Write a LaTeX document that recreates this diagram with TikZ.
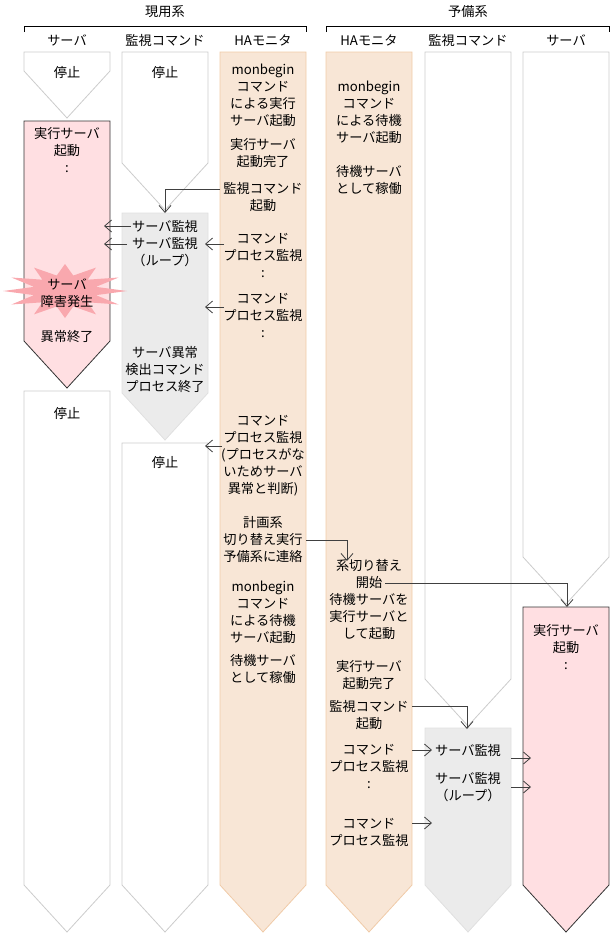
\documentclass[tikz,border=0pt]{standalone}
\usepackage{fontspec}
\setmainfont{Noto Sans CJK JP}
\usetikzlibrary{arrows.meta}
\definecolor{redf}{HTML}{FFDFE2}
\definecolor{grayf}{HTML}{EBEBEB}
\definecolor{orf}{HTML}{F8E6D6}
\definecolor{ord}{HTML}{F0CBA8}
\definecolor{burst}{HTML}{F9A8AE}
\tikzset{
  wht/.style={fill=white,draw=black!20,line width=0.8pt},
  red/.style={fill=redf,draw=black!80,line width=0.8pt},
  gry/.style={fill=grayf,draw=black!12,line width=0.8pt},
  org/.style={fill=orf,draw=ord,line width=0.8pt},
  t/.style={font=\fontsize{13.2}{17}\selectfont,align=center,inner sep=0pt},
  ar/.style={draw=black!75,line width=0.8pt,-{Straight Barb[length=7pt,width=12pt]}},
}
\newcommand\blk[5]{% style,x1,x2,ytop,ytip
  \draw[#1] (#2,#4) -- (#3,#4) -- (#3,{#5-47}) -- ({(#2+#3)/2},#5) -- (#2,{#5-47}) -- cycle;}
\begin{document}
\begin{tikzpicture}[x=1pt,y=-1pt]
\useasboundingbox (0,0) rectangle (612,937);
% headers
\node[t] (h1) at (165,12) {現用系};
\node[t] (h2) at (468,12) {予備系};
\draw[line width=0.8pt] (24,32) -- (24,26) -- (306,26) -- (306,32);
\draw[line width=0.8pt] (326,32) -- (326,26) -- (609,26) -- (609,32);
\node[t] (c1) at (67,40) {サーバ};
\node[t] (c2) at (165,40) {監視コマンド};
\node[t] (c3) at (263,40) {HAモニタ};
\node[t] (c4) at (369,40) {HAモニタ};
\node[t] (c5) at (468,40) {監視コマンド};
\node[t] (c6) at (566,40) {サーバ};
% blocks
\blk{wht}{24}{110}{52}{118}
\blk{red}{24}{110}{121}{388}
\blk{wht}{24}{110}{391}{932}
\blk{wht}{122}{208}{52}{210}
\blk{gry}{122}{208}{213}{440}
\blk{wht}{122}{208}{443}{932}
\blk{org}{220}{306}{52}{932}
\blk{org}{326}{412}{52}{932}
\blk{wht}{425}{511}{52}{726}
\blk{gry}{425}{511}{728}{932}
\blk{wht}{523}{609}{52}{604}
\blk{red}{523}{609}{607}{932}
% burst
\fill[burst] plot[samples=25,domain=0:360,variable=\a]
  ({65+(mod(round(\a/15),2)==0 ? 62 : 32)*cos(\a)},{291+(mod(round(\a/15),2)==0 ? 27 : 16)*sin(\a)}) -- cycle;
% texts current server
\node[t] (s1) at (67,73) {停止};
\node[t] (s2) at (67,150) {実行サーバ\\起動\\:};
\node[t] (s3) at (67,293) {サーバ\\障害発生};
\node[t] (s4) at (67,337) {異常終了};
\node[t] (s5) at (67,414) {停止};
% current monitor cmd
\node[t] (m1) at (165,73) {停止};
\node[t] (m2) at (165,226) {サーバ監視};
\node[t] (m3) at (165,252) {サーバ監視\\（ループ）};
\node[t] (m4) at (165,370) {サーバ異常\\検出コマンド\\プロセス終了};
\node[t] (m5) at (165,463) {停止};
% current HA
\node[t] (a1) at (263,95) {monbegin\\コマンド\\による実行\\サーバ起動};
\node[t] (a2) at (263,153) {実行サーバ\\起動完了};
\node[t] (a3) at (263,197) {監視コマンド\\起動};
\node[t] (a4) at (263,255) {コマンド\\プロセス監視\\:};
\node[t] (a5) at (263,315) {コマンド\\プロセス監視\\:};
\node[t] (a6) at (263,456) {コマンド\\プロセス監視\\(プロセスがな\\いためサーバ\\異常と判断)};
\node[t] (a7) at (263,540) {計画系\\切り替え実行\\予備系に連絡};
\node[t] (a8) at (263,612) {monbegin\\コマンド\\による待機\\サーバ起動};
\node[t] (a9) at (263,669) {待機サーバ\\として稼働};
% standby HA
\node[t] (b1) at (369,112) {monbegin\\コマンド\\による待機\\サーバ起動};
\node[t] (b2) at (369,180) {待機サーバ\\として稼働};
\node[t] (b3) at (369,600) {系切り替え\\開始\\待機サーバを\\実行サーバと\\して起動};
\node[t] (b4) at (369,675) {実行サーバ\\起動完了};
\node[t] (b5) at (369,715) {監視コマンド\\起動};
\node[t] (b6) at (369,766) {コマンド\\プロセス監視\\:};
\node[t] (b7) at (369,832) {コマンド\\プロセス監視};
% standby monitor
\node[t] (n1) at (468,750) {サーバ監視};
\node[t] (n2) at (468,787) {サーバ監視\\（ループ）};
% standby server
\node[t] (r1) at (566,647) {実行サーバ\\起動\\:};
% connectors
\coordinate (q1) at (220,189);
\draw[ar] (q1) -- (165,189) -- (165,213);
\draw[ar] (m2.west) ++(-1,0) -- (104,226);
\draw[ar] (127,244) -- (104,244);
\draw[ar] (224,244) -- (205,244);
\draw[ar] (224,307) -- (205,307);
\draw[ar] (222,446) -- (205,446);
\coordinate (q2) at (306,540);
\draw[ar] (q2) -- (347,540) -- (347,561);
\coordinate (q3) at (385,583);
\draw[ar] (q3) -- (567,583) -- (567,607);
\coordinate (q4) at (412,706);
\draw[ar] (q4) -- (467,706) -- (467,729);
\draw[ar] (412,750) -- (432,750);
\draw[ar] (412,823) -- (432,823);
\draw[ar] (511,758) -- (531,758);
\draw[ar] (511,787) -- (531,787);
\end{tikzpicture}
\end{document}
